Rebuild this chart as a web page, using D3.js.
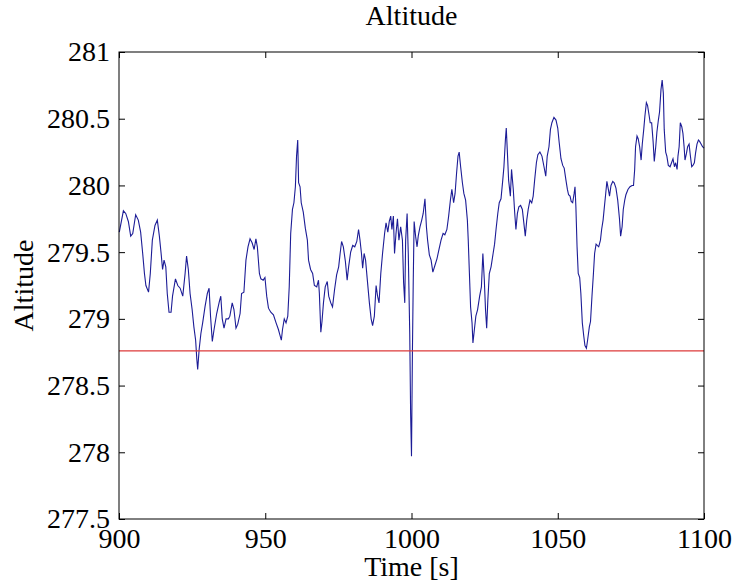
<!DOCTYPE html>
<html>
<head>
<meta charset="utf-8">
<script src="https://cdn.jsdelivr.net/npm/d3@7"></script>
<style>
  body { margin: 0; background: #fff; }
  svg text { font-family: "Liberation Serif", "Times New Roman", serif; fill: #000; }
</style>
</head>
<body>
<div id="chart"></div>
<script>
// tid i sekunder og højde
const timeS = [
  900.1, 901.5, 902.3, 903.2, 904.0, 904.7, 905.7, 906.6, 907.4, 908.1, 908.7, 909.2, 910.1, 910.7,
  911.4, 912.3, 913.1, 913.8, 914.4, 914.9, 915.4, 916.0, 916.5, 917.1, 917.8, 918.3, 919.3, 920.1,
  920.9, 921.8, 922.6, 923.1, 923.7, 924.3, 925.0, 925.6, 926.2, 926.6, 926.9, 927.4, 928.0, 928.6,
  929.4, 930.2, 930.8, 931.3, 931.9, 932.5, 933.4, 934.3, 934.8, 935.3, 935.9, 936.6, 937.4, 937.9,
  938.7, 939.3, 940.0, 940.6, 941.4, 941.9, 942.7, 943.4, 944.1, 944.8, 945.5, 946.2, 946.8, 947.3,
  948.0, 948.5, 949.3, 949.9, 950.5, 951.1, 951.9, 952.8, 953.7, 954.5, 955.0, 955.5, 955.9, 956.5,
  957.1, 957.7, 958.2, 958.7, 959.3, 959.8, 960.3, 960.7, 961.1, 961.4, 961.9, 962.3, 963.0, 963.7,
  964.4, 964.8, 965.5, 966.2, 966.8, 967.6, 968.2, 968.5, 969.0, 969.4, 969.9, 970.5, 971.2, 971.7,
  972.4, 973.0, 973.7, 974.4, 975.1, 975.6, 976.1, 976.7, 977.4, 978.0, 978.5, 979.2, 979.9, 980.6,
  981.3, 981.9, 982.4, 982.9, 983.3, 983.8, 984.3, 984.9, 985.6, 986.2, 986.7, 987.3, 987.9, 988.4,
  988.9, 989.5, 990.1, 990.8, 991.3, 991.9, 992.4, 992.9, 993.3, 993.8, 994.2, 994.7, 995.2, 995.7,
  996.3, 996.9, 997.3, 997.7, 998.0, 998.5, 998.9, 999.4, 999.7, 1000.0, 1000.3, 1000.6, 1000.9, 1001.4,
  1001.9, 1002.3, 1002.9, 1003.5, 1004.0, 1004.6, 1005.1, 1005.5, 1006.1, 1006.7, 1007.3, 1008.0, 1008.7, 1009.4,
  1010.1, 1010.8, 1011.4, 1012.1, 1012.7, 1013.3, 1013.8, 1014.4, 1014.9, 1015.4, 1015.9, 1016.3, 1016.8, 1017.4,
  1017.9, 1018.5, 1019.1, 1019.4, 1019.8, 1020.2, 1020.7, 1021.0, 1021.5, 1022.0, 1022.6, 1023.3, 1023.9, 1024.4,
  1024.9, 1025.3, 1025.7, 1026.1, 1026.6, 1027.2, 1027.9, 1028.4, 1028.9, 1029.5, 1030.0, 1030.6, 1031.2, 1031.6,
  1032.1, 1032.4, 1032.8, 1033.2, 1033.8, 1034.2, 1034.8, 1035.3, 1035.7, 1036.2, 1036.7, 1037.3, 1037.9, 1038.3,
  1038.9, 1039.4, 1039.9, 1040.5, 1041.1, 1041.6, 1042.1, 1042.7, 1043.2, 1043.9, 1044.6, 1045.3, 1045.9, 1046.4,
  1047.0, 1047.5, 1048.0, 1048.7, 1049.4, 1050.0, 1050.5, 1051.1, 1051.7, 1052.2, 1052.8, 1053.3, 1053.7, 1054.2,
  1054.6, 1055.1, 1055.6, 1055.9, 1056.2, 1056.6, 1057.0, 1057.5, 1057.9, 1058.4, 1058.9, 1059.3, 1059.8, 1060.2,
  1060.8, 1061.2, 1061.7, 1062.2, 1062.6, 1063.1, 1063.5, 1064.0, 1064.6, 1065.0, 1065.5, 1065.9, 1066.4, 1066.8,
  1067.3, 1067.7, 1068.2, 1068.8, 1069.3, 1069.9, 1070.5, 1071.1, 1071.5, 1072.0, 1072.4, 1072.9, 1073.3, 1074.0,
  1074.7, 1075.4, 1075.9, 1076.3, 1076.6, 1077.1, 1077.5, 1078.0, 1078.5, 1078.9, 1079.4, 1079.8, 1080.3, 1080.7,
  1081.2, 1081.6, 1082.1, 1082.6, 1083.0, 1083.5, 1083.9, 1084.4, 1084.8, 1085.3, 1085.7, 1086.1, 1086.4, 1086.9,
  1087.3, 1087.8, 1088.4, 1088.9, 1089.4, 1089.9, 1090.3, 1090.8, 1091.1, 1091.5, 1091.9, 1092.4, 1092.8, 1093.2,
  1093.5, 1094.0, 1094.4, 1094.9, 1095.3, 1095.8, 1096.2, 1096.7, 1097.1, 1097.6, 1098.1, 1098.5, 1099.0, 1099.5,
  1100.0
];
const altitude = [
  279.65, 279.81, 279.79, 279.73, 279.62, 279.64, 279.78, 279.74, 279.65, 279.49, 279.34, 279.25, 279.20, 279.34,
  279.59, 279.70, 279.74, 279.62, 279.49, 279.37, 279.44, 279.39, 279.19, 279.05, 279.05, 279.17, 279.30, 279.25,
  279.23, 279.17, 279.34, 279.47, 279.37, 279.19, 279.07, 278.94, 278.84, 278.70, 278.62, 278.77, 278.89, 278.97,
  279.09, 279.19, 279.23, 279.02, 278.83, 278.92, 279.04, 279.13, 279.17, 279.00, 278.93, 279.00, 279.00, 279.02,
  279.12, 279.07, 278.93, 278.96, 279.04, 279.19, 279.20, 279.44, 279.54, 279.60, 279.57, 279.52, 279.60, 279.54,
  279.34, 279.30, 279.29, 279.31, 279.17, 279.08, 279.05, 279.03, 278.97, 278.92, 278.88, 278.84, 278.92, 279.00,
  278.97, 279.02, 279.24, 279.64, 279.82, 279.87, 279.99, 280.22, 280.34, 280.02, 279.99, 279.87, 279.80, 279.68,
  279.59, 279.44, 279.37, 279.34, 279.25, 279.24, 279.29, 279.19, 278.90, 278.98, 279.12, 279.24, 279.28, 279.17,
  279.12, 279.09, 279.22, 279.33, 279.39, 279.49, 279.58, 279.54, 279.43, 279.29, 279.39, 279.50, 279.55, 279.54,
  279.58, 279.67, 279.59, 279.49, 279.38, 279.49, 279.44, 279.29, 279.12, 279.00, 278.95, 279.02, 279.25, 279.17,
  279.12, 279.34, 279.49, 279.64, 279.72, 279.65, 279.73, 279.77, 279.67, 279.77, 279.49, 279.64, 279.75, 279.59,
  279.69, 279.59, 279.27, 279.12, 279.59, 279.79, 279.49, 278.89, 278.29, 277.97, 278.72, 279.29, 279.73, 279.62,
  279.54, 279.62, 279.69, 279.74, 279.79, 279.90, 279.69, 279.59, 279.48, 279.44, 279.35, 279.40, 279.45, 279.52,
  279.59, 279.64, 279.63, 279.67, 279.77, 279.89, 279.97, 279.87, 279.94, 280.09, 280.22, 280.25, 280.14, 280.02,
  279.94, 279.89, 279.74, 279.59, 279.34, 279.09, 278.97, 278.82, 278.92, 279.02, 279.07, 279.17, 279.24, 279.49,
  279.29, 279.07, 278.93, 279.14, 279.34, 279.39, 279.49, 279.56, 279.67, 279.79, 279.87, 279.90, 280.04, 280.14,
  280.34, 280.43, 280.24, 280.04, 279.92, 280.12, 279.97, 279.79, 279.67, 279.79, 279.84, 279.85, 279.82, 279.74,
  279.62, 279.74, 279.82, 279.89, 279.87, 279.92, 280.04, 280.17, 280.23, 280.25, 280.22, 280.14, 280.07, 280.22,
  280.29, 280.42, 280.47, 280.51, 280.49, 280.43, 280.32, 280.20, 280.15, 280.13, 280.04, 279.97, 279.93, 279.92,
  279.88, 279.87, 279.94, 279.99, 279.84, 279.54, 279.34, 279.31, 279.19, 278.97, 278.87, 278.80, 278.78, 278.84,
  278.94, 278.98, 279.17, 279.34, 279.49, 279.56, 279.55, 279.54, 279.59, 279.67, 279.74, 279.83, 279.94, 280.03,
  279.97, 279.92, 280.00, 280.03, 280.02, 279.98, 279.89, 279.75, 279.62, 279.69, 279.82, 279.89, 279.93, 279.97,
  279.99, 280.00, 280.00, 280.12, 280.29, 280.37, 280.35, 280.29, 280.19, 280.31, 280.42, 280.52, 280.62, 280.60,
  280.53, 280.47, 280.47, 280.33, 280.18, 280.29, 280.40, 280.49, 280.55, 280.72, 280.79, 280.69, 280.42, 280.25,
  280.22, 280.15, 280.14, 280.17, 280.20, 280.14, 280.17, 280.12, 280.22, 280.29, 280.47, 280.44, 280.39, 280.29,
  280.19, 280.24, 280.29, 280.31, 280.23, 280.14, 280.15, 280.17, 280.24, 280.31, 280.34, 280.33, 280.31, 280.29,
  280.28
];
const threshold = 278.76;          // rød grænselinje
const xTicks = [900, 950, 1000, 1050, 1100];
const yTicks = [277.5, 278, 278.5, 279, 279.5, 280, 280.5, 281];

const width = 738, height = 588;
const margin = { top: 52, right: 34, bottom: 69, left: 119 };
const plotW = width - margin.left - margin.right;
const plotH = height - margin.top - margin.bottom;
const serif = "'Liberation Serif', 'Times New Roman', serif";

const data = timeS.map((t, i) => [t, altitude[i]]);

const svg = d3.select("#chart")
    .append("svg")
    .attr("width", width)
    .attr("height", height);

const xScale = d3.scaleLinear().domain([900, 1100]).range([0, plotW]);
const yScale = d3.scaleLinear().domain([277.5, 281]).range([plotH, 0]);

const g = svg.append("g")
    .attr("transform", `translate(${margin.left},${margin.top})`);

// selve kurven
const line = d3.line()
    .x(d => xScale(d[0]))
    .y(d => yScale(d[1]));

g.append("path")
    .datum(data)
    .attr("fill", "none")
    .attr("stroke", "#1c1c96")
    .attr("stroke-width", 1.1)
    .attr("d", line);

g.append("line")
    .attr("x1", xScale(900))
    .attr("x2", xScale(1100))
    .attr("y1", yScale(threshold))
    .attr("y2", yScale(threshold))
    .attr("stroke", "#dd3a3a")
    .attr("stroke-width", 1.1);

// akser med ticks indad (matlab stil)
const tick = 6;
const fontSize = "28px";

const xAxis = g.append("g")
    .attr("transform", `translate(0,${plotH})`)
    .call(d3.axisBottom(xScale).tickValues(xTicks).tickSize(-tick).tickPadding(9).tickFormat(d => d));
const xTop = g.append("g")
    .call(d3.axisTop(xScale).tickValues(xTicks).tickSize(-tick).tickFormat(""));
const yAxis = g.append("g")
    .call(d3.axisLeft(yScale).tickValues(yTicks).tickSize(-tick).tickPadding(9).tickFormat(d => d));
const yRight = g.append("g")
    .attr("transform", `translate(${plotW},0)`)
    .call(d3.axisRight(yScale).tickValues(yTicks).tickSize(-tick).tickFormat(""));

[xAxis, xTop, yAxis, yRight].forEach(a => {
    a.attr("font-family", serif).attr("font-size", 28);
    a.select(".domain").remove();
    a.selectAll("line").attr("stroke", "#000");
    a.selectAll("text")
        .style("font-family", serif)
        .style("font-size", fontSize)
        .attr("fill", "#000");
});

g.append("rect")
    .attr("x", 0)
    .attr("y", 0)
    .attr("width", plotW)
    .attr("height", plotH)
    .attr("fill", "none")
    .attr("stroke", "#000")
    .attr("stroke-width", 1);

// titler
svg.append("text")
    .attr("x", margin.left + plotW / 2)
    .attr("y", 25)
    .attr("text-anchor", "middle")
    .style("font-size", fontSize)
    .text("Altitude");

svg.append("text")
    .attr("x", margin.left + plotW / 2)
    .attr("y", 576)
    .attr("text-anchor", "middle")
    .style("font-size", fontSize)
    .text("Time [s]");

svg.append("text")
    .attr("transform", `translate(33,${margin.top + plotH / 2}) rotate(-90)`)
    .attr("text-anchor", "middle")
    .style("font-size", fontSize)
    .text("Altitude");
</script>
</body>
</html>
